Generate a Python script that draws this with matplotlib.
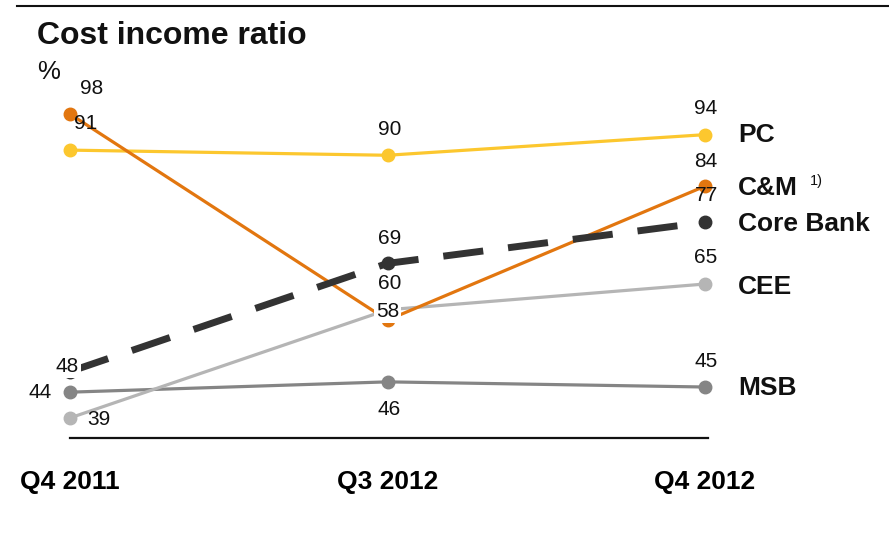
import matplotlib

matplotlib.use("Agg")
import matplotlib.pyplot as plt
from matplotlib.lines import Line2D

periods = ["Q4 2011", "Q3 2012", "Q4 2012"]
series = ["MSB", "CEE", "PC", "C&M", "Core Bank"]
msb = [44, 46, 45]
cee = [39, 60, 65]
pc = [91, 90, 94]
cm = [98, 58, 84]
core = [48, 69, 77]
values = {"MSB": msb, "CEE": cee, "PC": pc, "C&M": cm, "Core Bank": core}

COLORS = {"MSB": "#858585", "CEE": "#b5b5b5", "PC": "#fcc72e",
          "C&M": "#e2760f", "Core Bank": "#333333"}
# label offsets in pixels (dx, dy up)
OFFS = {
    "MSB": [(-30, 0), (2, -28), (1, 26)],
    "CEE": [(29, -2), (2, 26), (1, 27)],
    "PC": [(16, 27), (2, 26), (1, 26)],
    "C&M": [(22, 26), (0, 9), (1, 25)],
    "Core Bank": [(-3, 5), (2, 25), (1, 27)],
}
NAME_DY = {"MSB": -1, "CEE": -3, "PC": 0, "C&M": -2, "Core Bank": -2}

plt.rcParams["font.family"] = ["Liberation Sans", "DejaVu Sans"]

W, H = 889, 554
fig = plt.figure(figsize=(W / 100, H / 100), dpi=100)
ax = fig.add_axes([20 / W, 1 - 438 / H, 850 / W, 358 / H])
ax.set_xlim(-50 / 317.5, 800 / 317.5)
ax.set_ylim(35.1, 35.1 + 358 / 5.15)
ax.patch.set_visible(False)
for s in ["top", "right", "left"]:
    ax.spines[s].set_visible(False)
ax.spines["bottom"].set_bounds(0, 2.01)
ax.spines["bottom"].set_linewidth(1.6)
ax.spines["bottom"].set_color("#111111")
ax.set_yticks([])
ax.set_xticks(range(len(periods)))
ax.set_xticklabels(periods, fontsize=19, fontweight="bold")
ax.tick_params(axis="x", length=0, pad=23)

px = 0.72
x = list(range(len(periods)))
for i, name in enumerate(series):
    v = values[name]
    c = COLORS[name]
    if name == "Core Bank":
        ax.plot(x, v, color=c, lw=5, dashes=(5.8, 3.6), zorder=5 + i,
                solid_capstyle="butt", dash_capstyle="butt")
        ax.plot(x, v, "o", color=c, ms=9, zorder=5 + i)
    else:
        ax.plot(x, v, "-o", color=c, lw=2.3, ms=9, zorder=5 + i)
    for j, val in enumerate(v):
        dx, dy = OFFS[name][j]
        bbox = None
        if (name == "C&M" and j == 1) or (name == "Core Bank" and j == 0):
            bbox = dict(boxstyle="square,pad=0.1", fc="white", ec="none")
        ax.annotate(str(val), (j, val), xytext=(dx * px, dy * px),
                    textcoords="offset points", ha="center", va="center",
                    fontsize=15, color="#111111", bbox=bbox, zorder=20)
    ax.annotate(name, (2, v[-1]), xytext=(33 * px, NAME_DY[name] * px),
                textcoords="offset points", ha="left", va="center",
                fontsize=19, fontweight="bold", color="#111111", zorder=20)

ax.annotate("1)", (2, cm[-1]), xytext=(105 * px, 5 * px),
            textcoords="offset points", ha="left", va="center",
            fontsize=10.5, color="#111111")

fig.text(37 / W, 1 - 36 / H, "Cost income ratio", fontsize=23, fontweight="bold",
         ha="left", va="center", color="#111111")
fig.text(37 / W, 1 - 72 / H, "%", fontsize=18.5, ha="left", va="center", color="#111111")
fig.add_artist(Line2D([17 / W, 1], [1 - 6 / H, 1 - 6 / H], color="#111111", lw=1.5))

fig.savefig("out.png", dpi=100, facecolor="white")
